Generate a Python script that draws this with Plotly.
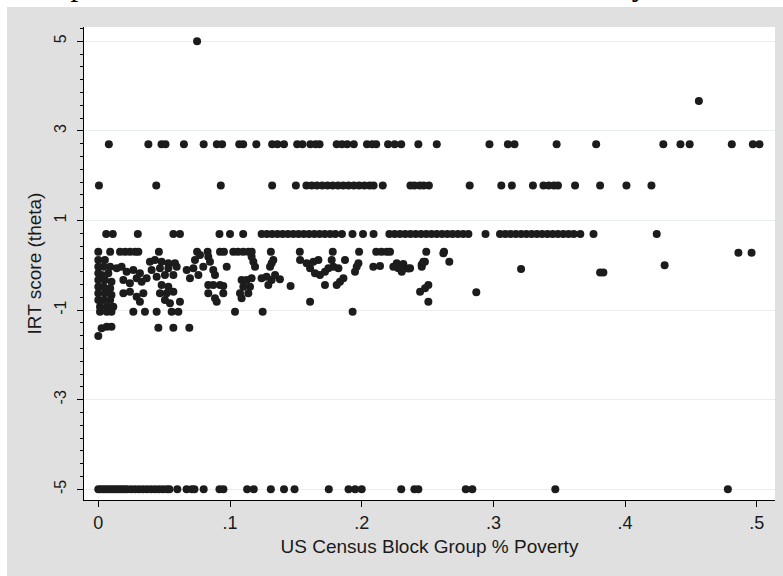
import plotly.graph_objects as go

# ---- data ----
top_x = [0.075, 0.456]
top_y = [5.0, 3.67]

row27_y = 2.7
row27_x = [0.008, 0.038, 0.048, 0.051, 0.065, 0.080, 0.090, 0.094, 0.107, 0.110,
           0.120, 0.132, 0.136, 0.141, 0.151, 0.155, 0.161, 0.165, 0.168, 0.181,
           0.185, 0.189, 0.194, 0.204, 0.208, 0.211, 0.220, 0.225, 0.230, 0.243,
           0.257, 0.297, 0.311, 0.316, 0.348, 0.378, 0.429, 0.442, 0.449, 0.481,
           0.497, 0.502]

row178_y = 1.78
row178_x = [0.0005, 0.044, 0.093, 0.132, 0.150, 0.158, 0.162, 0.166, 0.170, 0.174,
            0.178, 0.182, 0.186, 0.190, 0.194, 0.198, 0.202, 0.206, 0.209, 0.216,
            0.237, 0.240, 0.244, 0.247, 0.251, 0.282, 0.306, 0.314, 0.330, 0.338,
            0.342, 0.346, 0.349, 0.362, 0.381, 0.401, 0.420]

row07_y = 0.70
row07_x = [0.006, 0.011, 0.030, 0.057, 0.062, 0.092, 0.100, 0.110, 0.124, 0.128,
           0.132, 0.136, 0.140, 0.144, 0.148, 0.152, 0.156, 0.160, 0.164, 0.168,
           0.172, 0.176, 0.180, 0.185, 0.193, 0.201, 0.209, 0.221, 0.225, 0.229,
           0.233, 0.237, 0.241, 0.245, 0.249, 0.253, 0.257, 0.261, 0.265, 0.269,
           0.273, 0.277, 0.281, 0.294, 0.305, 0.309, 0.313, 0.317, 0.321, 0.325,
           0.329, 0.333, 0.337, 0.341, 0.345, 0.349, 0.353, 0.357, 0.361, 0.366,
           0.376, 0.424]

row03_y = 0.30
row03_x = [0.000, 0.009, 0.0165, 0.0203, 0.024, 0.0279, 0.0304, 0.046, 0.075, 0.083,
           0.0924, 0.0954, 0.1025, 0.106, 0.110, 0.114, 0.1165, 0.131, 0.153, 0.178,
           0.198, 0.211, 0.215, 0.219, 0.2215, 0.249, 0.2625]

rowm5_y = -5.0
rowm5_x = [0.000, 0.002, 0.004, 0.006, 0.008, 0.010, 0.012, 0.014, 0.016, 0.018,
           0.020, 0.022, 0.025, 0.028, 0.031, 0.034, 0.037, 0.040, 0.043, 0.046,
           0.049, 0.052, 0.054, 0.060, 0.067, 0.071, 0.073, 0.080, 0.092, 0.095,
           0.113, 0.118, 0.131, 0.141, 0.149, 0.175, 0.190, 0.195, 0.200, 0.230,
           0.240, 0.243, 0.279, 0.284, 0.347, 0.478]

cloud_x = [0.000, 0.005, 0.000, 0.004, 0.009, 0.014, 0.000, 0.0025, 0.0076, 0.000,
           0.005, 0.010, 0.000, 0.004, 0.009, 0.000, 0.005, 0.010, 0.000, 0.004,
           0.009, 0.0013, 0.0064, 0.0114, 0.0013, 0.0064, 0.010, 0.000, 0.0025, 0.0064,
           0.010,
           0.0177, 0.0215, 0.0266, 0.0316, 0.0367, 0.019, 0.024, 0.0291, 0.0329, 0.019,
           0.024, 0.0291, 0.0342, 0.0316, 0.0266, 0.0354,
           0.0392, 0.043, 0.0481, 0.0532, 0.0582, 0.0405, 0.0468, 0.0532, 0.0595, 0.0443,
           0.0506, 0.057, 0.0481, 0.0532, 0.0468, 0.0519, 0.057, 0.0506, 0.0544, 0.062,
           0.0443, 0.0557, 0.0608, 0.0456, 0.057, 0.0691,
           0.0671, 0.0722, 0.0696, 0.076, 0.0734, 0.0772, 0.0835, 0.0848, 0.0797, 0.0873,
           0.0886, 0.0835, 0.0873, 0.0924, 0.0949, 0.0835, 0.0886, 0.0899, 0.0949, 0.0975,
           0.1038, 0.1248, 0.1931,
           0.1088, 0.1126, 0.1164, 0.1101, 0.1152, 0.1076, 0.1139, 0.1088,
           0.119, 0.1177, 0.1164,
           0.124, 0.1278, 0.1316, 0.1342, 0.1291, 0.1379, 0.1316, 0.1329, 0.1304,
           0.146, 0.1608,
           0.1532, 0.1582, 0.1633, 0.1671, 0.1608, 0.1645, 0.1683, 0.1721, 0.1747, 0.1785,
           0.1823, 0.1772, 0.1721, 0.181, 0.1835, 0.1861, 0.1873,
           0.1962, 0.1975, 0.1949, 0.2088, 0.2139,
           0.224, 0.2278, 0.2304, 0.2329, 0.2367, 0.2266,
           0.2456, 0.2468, 0.2443, 0.2481, 0.2506, 0.2506, 0.262, 0.2665,
           0.2316, 0.2354, 0.2455, 0.248,
           0.287, 0.321, 0.381, 0.3835, 0.430, 0.486, 0.496]
cloud_y = [0.118, 0.118, -0.031, -0.031, -0.031, -0.068, -0.179, -0.216, -0.179, -0.328,
           -0.328, -0.365, -0.477, -0.477, -0.514, -0.626, -0.626, -0.663, -0.775, -0.775,
           -0.775, -0.923, -0.923, -0.923, -1.035, -1.035, -1.035, -1.578, -1.407, -1.37,
           -1.37,
           -0.031, -0.142, -0.105, -0.179, -0.291, -0.328, -0.402, -0.291, -0.365, -0.626,
           -0.588, -0.70, -0.626, -0.812, -1.035, -1.035,
           0.081, 0.118, 0.081, 0.044, 0.044, -0.105, -0.068, -0.068, -0.031, -0.254,
           -0.216, -0.216, -0.44, -0.477, -0.626, -0.626, -0.588, -0.775, -0.849, -0.812,
           -1.035, -1.035, -1.035, -1.392, -1.392, -1.392,
           -0.105, -0.068, -0.291, -0.216, 0.118, 0.23, 0.193, 0.081, -0.031, -0.105,
           -0.216, -0.44, -0.44, -0.44, -0.462, -0.626, -0.737, -0.812, -0.626, -0.031,
           -1.035, -1.035, -1.035,
           -0.328, -0.328, -0.291, -0.477, -0.477, -0.626, -0.626, -0.737,
           -0.031, 0.081, 0.193,
           -0.291, -0.254, -0.328, -0.216, -0.44, -0.313, 0.044, 0.118, -0.031,
           -0.462, -0.812,
           0.118, 0.044, 0.081, 0.118, -0.068, -0.179, -0.216, -0.142, -0.068, -0.031,
           -0.068, 0.118, -0.44, -0.44, -0.365, -0.291, 0.118,
           -0.031, 0.044, -0.142, -0.031, -0.016,
           -0.031, -0.068, -0.142, -0.068, -0.068, 0.044,
           -0.031, 0.081, -0.588, -0.514, -0.44, -0.812, 0.267, 0.081,
           0.03, -0.07, 0.01, 0.08,
           -0.6, -0.08, -0.16, -0.16, 0.0, 0.28, 0.28]

x_tickvals = [0, 0.1, 0.2, 0.3, 0.4, 0.5]
x_ticktext = ["0", ".1", ".2", ".3", ".4", ".5"]
y_tickvals = [-5, -3, -1, 1, 3, 5]
y_ticktext = ["-5", "-3", "-1", "1", "3", "5"]

title_text = "IRT scores versus percent of residents below the Federal Poverty Level"
x_title = "US Census Block Group % Poverty"
y_title = "IRT score (theta)"

# ---- assemble ----
xs = list(top_x)
ys = list(top_y)
for rx, ry in [(row27_x, row27_y), (row178_x, row178_y), (row07_x, row07_y),
               (row03_x, row03_y), (rowm5_x, rowm5_y)]:
    xs += rx
    ys += [ry] * len(rx)
xs += cloud_x
ys += cloud_y

fig = go.Figure()
fig.add_trace(go.Scatter(
    x=xs, y=ys, mode="markers",
    marker=dict(symbol="circle", size=8, color="#1c1c1c", line=dict(width=0)),
    showlegend=False, hoverinfo="skip"))

W, H = 783, 576
L, R, T, B = 84, 8, 27, 76
pw, ph = W - L - R, H - T - B

font_family = "Liberation Sans, Arial, sans-serif"

fig.update_layout(
    width=W, height=H,
    margin=dict(l=L, r=R, t=T, b=B, pad=0),
    paper_bgcolor="#e0e0e0",
    plot_bgcolor="white",
    font=dict(family=font_family, color="#1a1a1a", size=16),
    showlegend=False,
)

fig.update_xaxes(
    range=[-0.01086, 0.5138],
    tickvals=x_tickvals, ticktext=x_ticktext,
    showgrid=False, zeroline=False,
    showline=True, linecolor="#000000", linewidth=1,
    ticks="outside", ticklen=6, tickcolor="#000000", tickwidth=1,
    tickfont=dict(size=18, family=font_family, color="#1a1a1a"),
    title=dict(text=x_title, font=dict(size=19, family=font_family, color="#1a1a1a"), standoff=8),
)
fig.update_yaxes(
    range=[-5.239, 5.319],
    tickvals=y_tickvals, ticktext=y_ticktext, tickangle=-90,
    showgrid=True, gridcolor="#e6eef0", gridwidth=1,
    zeroline=False,
    showline=True, linecolor="#000000", linewidth=1,
    ticks="outside", ticklen=6, tickcolor="#000000", tickwidth=1,
    ticklabelstandoff=5,
    minor=dict(tick0=-5, dtick=2 / 7, ticks="outside", ticklen=3, tickcolor="#000000", showgrid=False),
    tickfont=dict(size=16, family=font_family, color="#1a1a1a"),
    title=dict(text=y_title, font=dict(size=19, family=font_family, color="#1a1a1a"), standoff=4),
)

# white strips outside the gray graph region (top and left)
fig.add_shape(type="rect", xref="paper", yref="paper", layer="above",
              x0=-L / pw - 0.01, x1=(W - L) / pw + 0.01, y0=1 + (T - 7) / ph, y1=1 + T / ph + 0.01,
              fillcolor="white", line=dict(width=0))
fig.add_shape(type="rect", xref="paper", yref="paper", layer="above",
              x0=-L / pw - 0.01, x1=-(L - 7) / pw, y0=-B / ph - 0.01, y1=1 + T / ph + 0.01,
              fillcolor="white", line=dict(width=0))

# cropped title at the very top (only the bottom of its letters shows)
fig.add_annotation(text=title_text, xref="paper", yref="paper",
                   x=(727 - L) / pw, y=1 + (T - 3) / ph, xanchor="right", yanchor="bottom",
                   showarrow=False, borderpad=0,
                   font=dict(family="Liberation Serif, Times New Roman, serif", size=31, color="#000000"))

fig.write_html("out.html")
